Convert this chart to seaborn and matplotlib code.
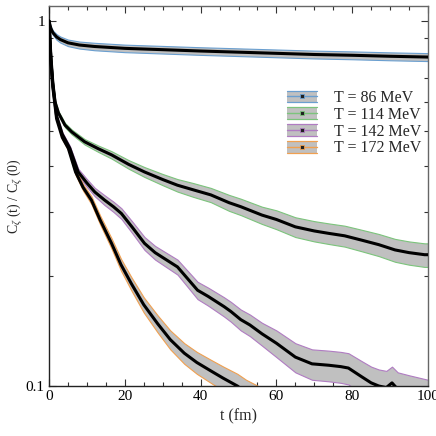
import numpy as np
import pandas as pd
import matplotlib
matplotlib.use("Agg")
import matplotlib.pyplot as plt
import seaborn as sns
from matplotlib.lines import Line2D
from matplotlib.patches import Rectangle
from matplotlib.legend_handler import HandlerBase
from matplotlib.ticker import FixedLocator, NullFormatter, MultipleLocator

# ---- data (t in fm, C(t)/C(0), error) ----
t86 = [0, 0.5, 1, 2, 3, 5, 8, 12, 20, 30, 40, 50, 60, 70, 80, 90, 100]
c86 = [1.0, 0.955, 0.93, 0.905, 0.89, 0.872, 0.86, 0.852, 0.842, 0.835,
       0.828, 0.822, 0.816, 0.81, 0.806, 0.801, 0.797]
e86 = [0, 0.01, 0.013, 0.016, 0.017, 0.018, 0.019, 0.02, 0.02, 0.02,
       0.02, 0.02, 0.02, 0.02, 0.02, 0.02, 0.02]

t114 = [0, 0.5, 1, 1.6, 2.5, 4.2, 6, 9.4, 13, 16.5, 21, 25.2, 30, 33.9, 38,
        42.7, 47.5, 50.6, 56.2, 60, 65, 70, 73.8, 78, 82.5, 87, 91.3, 95, 99.1, 100]
c114 = [1.0, 0.80, 0.68, 0.60, 0.56, 0.519, 0.497, 0.467, 0.447, 0.430, 0.405,
        0.386, 0.368, 0.355, 0.345, 0.334, 0.318, 0.310, 0.294, 0.286, 0.273,
        0.266, 0.262, 0.258, 0.251, 0.244, 0.236, 0.232, 0.229, 0.229]
e114 = [0, 0.004, 0.005, 0.006, 0.006, 0.007, 0.0075, 0.008, 0.009, 0.010, 0.011,
        0.012, 0.013, 0.014, 0.015, 0.015, 0.016, 0.016, 0.016, 0.017, 0.017,
        0.017, 0.017, 0.017, 0.017, 0.017, 0.017, 0.017, 0.017, 0.017]

t142 = [0, 0.5, 1, 2, 3.5, 5.5, 7.7, 10, 12.1, 14.7, 17, 19.1, 22, 25.2, 28, 30,
        33.9, 36, 39.2, 42, 46.2, 48, 50.6, 53, 56.2, 60, 65, 69.4, 73.8, 77,
        79, 82.5, 85, 87, 89, 90.5, 92, 95, 100]
c142 = [1.0, 0.78, 0.67, 0.55, 0.49, 0.448, 0.386, 0.36, 0.34, 0.323, 0.31,
        0.297, 0.272, 0.246, 0.232, 0.225, 0.212, 0.200, 0.183, 0.176, 0.165,
        0.160, 0.152, 0.147, 0.139, 0.131, 0.120, 0.115, 0.114, 0.113, 0.112,
        0.106, 0.102, 0.100, 0.099, 0.102, 0.098, 0.095, 0.092]
e142 = [0, 0.003, 0.004, 0.005, 0.006, 0.007, 0.008, 0.009, 0.009, 0.010, 0.010,
        0.010, 0.010, 0.010, 0.010, 0.010, 0.010, 0.010, 0.010, 0.010, 0.010,
        0.010, 0.010, 0.010, 0.010, 0.011, 0.011, 0.011, 0.011, 0.011, 0.011,
        0.011, 0.011, 0.011, 0.011, 0.011, 0.011, 0.012, 0.012]

t172 = [0, 0.5, 1, 2, 3.5, 5.1, 7, 9, 11.2, 13.5, 16.5, 19, 21.7, 25, 28.7, 32,
        35.7, 39, 42.7, 46, 49.7, 52, 56]
c172 = [1.0, 0.78, 0.66, 0.54, 0.48, 0.448, 0.386, 0.35, 0.323, 0.285, 0.246,
        0.215, 0.191, 0.167, 0.148, 0.134, 0.123, 0.116, 0.110, 0.105, 0.100,
        0.096, 0.091]
e172 = [0, 0.003, 0.004, 0.005, 0.006, 0.006, 0.007, 0.007, 0.008, 0.008, 0.008,
        0.008, 0.008, 0.008, 0.008, 0.008, 0.008, 0.008, 0.008, 0.008, 0.008,
        0.008, 0.008]

labels = ["T = 86 MeV", "T = 114 MeV", "T = 142 MeV", "T = 172 MeV"]
colors = ["#6a9fd0", "#7cc47c", "#b07cc2", "#f0a050"]
series = [(t86, c86, e86), (t114, c114, e114), (t142, c142, e142), (t172, c172, e172)]

# =========================== Plotting ================================
sns.set_style("ticks")
plt.rcParams["font.family"] = ["Liberation Serif", "DejaVu Serif"]
plt.rcParams["mathtext.fontset"] = "custom"
plt.rcParams["mathtext.rm"] = "Liberation Serif"
plt.rcParams["mathtext.it"] = "Liberation Serif:italic"

fig = plt.figure(figsize=(4.36, 4.36), dpi=100)
ax = fig.add_axes([49 / 436, 1 - 386 / 436, 379 / 436, 380 / 436])

for (t, c, e), col in zip(series, colors):
    t = np.array(t)
    c = np.array(c)
    e = np.array(e)
    ax.fill_between(t, c - e, c + e, facecolor="#c0c0c0", edgecolor=col, lw=0.8, zorder=2)
    sns.lineplot(x=t, y=c, color="black", lw=2.2, ax=ax, zorder=3)

ax.set_yscale("log")
ax.set_xlim(0, 100)
ax.set_ylim(0.1, 1.1)
ax.yaxis.set_major_locator(FixedLocator([0.1, 1]))
ax.set_yticklabels(["0.1", "1"])
ax.yaxis.set_minor_locator(FixedLocator([0.2, 0.3, 0.4, 0.5, 0.6, 0.7, 0.8, 0.9]))
ax.yaxis.set_minor_formatter(NullFormatter())
ax.xaxis.set_major_locator(MultipleLocator(20))
ax.xaxis.set_minor_locator(MultipleLocator(5))
ax.tick_params(which="both", direction="in", top=True, right=True, labelsize=11,
               width=0.8, colors="#333333", labelcolor="black", pad=3)
ax.tick_params(which="major", length=5)
ax.tick_params(which="minor", length=3)
for s in ["left", "bottom"]:
    ax.spines[s].set_color("#222222")
for s in ["top", "right"]:
    ax.spines[s].set_color("#666666")
for s in ax.spines.values():
    s.set_linewidth(1.0)

ax.set_xlabel("t (fm)", fontsize=11.5, labelpad=4)
ax.set_ylabel(r"C$_\zeta$ (t) / C$_\zeta$ (0)", fontsize=10)
ax.yaxis.set_label_coords(-24 / 379, 0.5)


class BandHandler(HandlerBase):
    def create_artists(self, legend, orig_handle, xdescent, ydescent, width, height,
                       fontsize, trans):
        col = orig_handle.get_color()
        x0, y0 = -xdescent, -ydescent
        rect = Rectangle((x0, y0), width, height, facecolor="#c0c0c0", edgecolor="none",
                         transform=trans)
        top = Line2D([x0, x0 + width], [y0 + height] * 2, color=col, lw=0.9, transform=trans)
        bot = Line2D([x0, x0 + width], [y0] * 2, color=col, lw=0.9, transform=trans)
        mid = Line2D([x0, x0 + width], [y0 + height / 2] * 2, color=col, lw=1.0, transform=trans)
        dot = Line2D([x0 + width / 2], [y0 + height / 2], marker="s", ms=2.5, mfc="#222222",
                     mec=col, mew=0.6, lw=0, transform=trans)
        return [rect, top, bot, mid, dot]


handles = [Line2D([], [], color=col) for col in colors]
fig.legend(handles, labels, handler_map={Line2D: BandHandler()},
           loc="upper left", bbox_to_anchor=(287 / 436, 1 - 90 / 436),
           bbox_transform=fig.transFigure, frameon=False, fontsize=11.5,
           handlelength=1.85, handleheight=0.75, handletextpad=1.1,
           labelspacing=0.05, borderpad=0, borderaxespad=0)

plt.savefig("out.png", dpi=100)
